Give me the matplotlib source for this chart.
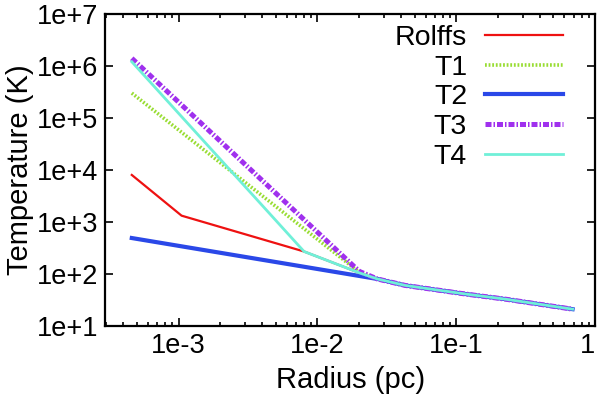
import matplotlib
matplotlib.use("Agg")
import matplotlib.pyplot as plt
from matplotlib.ticker import LogLocator, FixedFormatter, FixedLocator

plt.rcParams['font.family'] = ['Liberation Sans', 'DejaVu Sans']

# radius (pc) / temperature (K)
tail_r = [0.027, 0.043, 0.117, 0.228, 0.687]
tail_T = [80, 60, 41, 32.6, 21]

rolffs_r = [4.6e-4, 1.05e-3, 8.0e-3, 0.020] + tail_r
rolffs_T = [8000, 1320, 270, 105] + tail_T
t1_r = [4.6e-4, 0.020] + tail_r
t1_T = [3.0e5, 108] + tail_T
t2_r = [4.6e-4, 0.027] + tail_r[1:]
t2_T = [490, 80] + tail_T[1:]
t3_r = [4.6e-4, 0.020] + tail_r
t3_T = [1.4e6, 112] + tail_T
t4_r = [4.6e-4, 8.0e-3, 0.020] + tail_r
t4_T = [1.2e6, 270, 105] + tail_T

xticks = [1e-3, 1e-2, 1e-1, 1]
xlabels = ['1e-3', '1e-2', '1e-1', '1']
yticks = [1e1, 1e2, 1e3, 1e4, 1e5, 1e6, 1e7]
ylabels = ['1e+1', '1e+2', '1e+3', '1e+4', '1e+5', '1e+6', '1e+7']

fig = plt.figure(figsize=(6, 3.97), dpi=100)
ax = fig.add_axes([0.175, 0.179, 0.817, 0.786])

ax.plot(rolffs_r, rolffs_T, color='#ee1111', lw=1.6, label='Rolffs')
ax.plot(t1_r, t1_T, color='#99dd33', lw=2.6, ls=(0, (0.5, 0.5)), label='T1')
ax.plot(t2_r, t2_T, color='#2a48e8', lw=3.0, label='T2')
ax.plot(t3_r, t3_T, color='#a030ee', lw=3.6, ls=(0, (1.2, 0.4, 0.3, 0.4)), label='T3')
ax.plot(t4_r, t4_T, color='#70f0d8', lw=2.0, label='T4')

ax.set_xscale('log')
ax.set_yscale('log')
ax.set_xlim(2.95e-4, 1.0)
ax.set_ylim(10, 1e7)

ax.xaxis.set_major_locator(FixedLocator(xticks))
ax.xaxis.set_major_formatter(FixedFormatter(xlabels))
ax.yaxis.set_major_locator(FixedLocator(yticks))
ax.yaxis.set_major_formatter(FixedFormatter(ylabels))
ax.xaxis.set_minor_locator(LogLocator(base=10, subs=range(2, 10)))
ax.yaxis.set_minor_locator(LogLocator(base=10, subs=range(2, 10)))
ax.xaxis.set_minor_formatter(FixedFormatter([]))
ax.yaxis.set_minor_formatter(FixedFormatter([]))

ax.tick_params(which='both', direction='in', top=True, right=True, width=1.2)
ax.tick_params(which='major', length=6, labelsize=19.5, pad=5)
ax.tick_params(which='minor', length=3)
for s in ax.spines.values():
    s.set_linewidth(1.6)
# the lone "1" sits a little left of its tick, as in the reference
ax.get_xticklabels()[-1].set_ha('right')
ax.get_xticklabels()[-1].set_x(1.0)

ax.set_xlabel('Radius (pc)', fontsize=21, labelpad=5)
ax.set_ylabel('Temperature (K)', fontsize=21, labelpad=2)

ax.legend(loc='upper right', bbox_to_anchor=(563 / 600, 1 - 25 / 397),
          bbox_transform=fig.transFigure, frameon=False, markerfirst=False,
          fontsize=20.5, handlelength=2.75, handletextpad=0.62,
          labelspacing=0.13, borderpad=0, borderaxespad=0)

fig.savefig('out.png', dpi=100)
